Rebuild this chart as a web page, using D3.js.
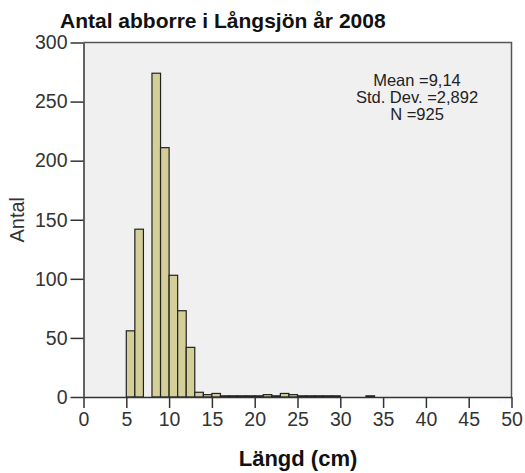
<!DOCTYPE html>
<html>
<head>
<meta charset="utf-8">
<script src="https://cdn.jsdelivr.net/npm/d3@7"></script>
<style>
  body { margin: 0; background: #fff; }
  svg { display: block; font-family: "Liberation Sans", Arial, sans-serif; }
</style>
</head>
<body>
<div id="chart"></div>
<script>
// Histogram data: bin start (cm), bin width 1 cm, count
const binStarts = [5, 6, 7, 8, 9, 10, 11, 12, 13, 14, 15, 16, 17, 18, 19, 20, 21, 22, 23, 24, 25, 26, 27, 28, 29, 30, 31, 32, 33];
const counts    = [56, 142, 0, 274, 211, 103, 73, 42, 4, 2, 3, 1, 1, 1, 1, 1, 2, 1, 3, 2, 1, 1, 1, 1, 1, 0, 0, 0, 1];
const xTicks = [0, 5, 10, 15, 20, 25, 30, 35, 40, 45, 50];
const yTicks = [0, 50, 100, 150, 200, 250, 300];
const statLines = ["Mean =9,14", "Std. Dev. =2,892", "N =925"];

const size = { width: 525, height: 473 };
const plot = { left: 83.5, right: 511.5, top: 42.5, bottom: 397 };
const barFill = "#d4cf98";
const axisColor = "#333";

const data = binStarts.map((b, i) => ({ x0: b, x1: b + 1, count: counts[i] }));

const svg = d3.select("#chart")
  .append("svg")
  .attr("width", size.width)
  .attr("height", size.height);

const xScale = d3.scaleLinear([0, 50], [plot.left, plot.right]);
const yScale = d3.scaleLinear([0, 300], [plot.bottom, plot.top]);

// plot background
svg.append("rect")
  .attr("x", plot.left)
  .attr("y", plot.top)
  .attr("width", plot.right - plot.left)
  .attr("height", plot.bottom - plot.top)
  .attr("fill", "#f0f0f0");

// bars
svg.append("g")
  .selectAll("rect")
  .data(data.filter((d) => d.count > 0))
  .join("rect")
  .attr("x", (d) => xScale(d.x0))
  .attr("y", (d) => yScale(d.count))
  .attr("width", (d) => xScale(d.x1) - xScale(d.x0))
  .attr("height", (d) => yScale(0) - yScale(d.count))
  .attr("fill", barFill)
  .attr("stroke", "#222")
  .attr("stroke-width", 1.2);

// frame top and right
svg.append("path")
  .attr("d", `M${plot.left},${plot.top}H${plot.right}V${plot.bottom}`)
  .attr("fill", "none")
  .attr("stroke", "#555")
  .attr("stroke-width", 1.5);

// Axes
const styleAxis = (g) =>
  g.call((g) => g.select(".domain").attr("stroke", axisColor).attr("stroke-width", 1.5))
    .call((g) => g.selectAll(".tick line").attr("stroke", axisColor).attr("stroke-width", 1.5))
    .call((g) => g.selectAll("text").attr("fill", "#333").style("font-size", "19.5px").style("font-family", "Liberation Sans, Arial, sans-serif"));

const xAxis = (g) =>
  g.attr("transform", `translate(0,${plot.bottom})`)
    .call(d3.axisBottom(xScale).tickValues(xTicks).tickSize(11).tickPadding(4).tickSizeOuter(0))
    .call(styleAxis);

const yAxis = (g) =>
  g.attr("transform", `translate(${plot.left},0)`)
    .call(d3.axisLeft(yScale).tickValues(yTicks).tickSize(13).tickPadding(3).tickSizeOuter(0))
    .call(styleAxis);

svg.append("g").call(xAxis);
svg.append("g").call(yAxis);

// Title
svg.append("text")
  .attr("x", 60)
  .attr("y", 28)
  .attr("font-size", 21)
  .attr("font-weight", "bold")
  .attr("fill", "#111")
  .text("Antal abborre i Långsjön år 2008");

// Axis titles
svg.append("text")
  .attr("x", 298)
  .attr("y", 466)
  .attr("text-anchor", "middle")
  .attr("font-size", 22)
  .attr("font-weight", "bold")
  .attr("fill", "#111")
  .text("Längd (cm)");

svg.append("text")
  .attr("transform", `translate(24,${(plot.top + plot.bottom) / 2}) rotate(-90)`)
  .attr("text-anchor", "middle")
  .attr("font-size", 20)
  .attr("fill", "#333")
  .text("Antal");

// Stats box
svg.append("g")
  .selectAll("text")
  .data(statLines)
  .join("text")
  .attr("x", 417)
  .attr("y", (d, i) => 86 + i * 17)
  .attr("text-anchor", "middle")
  .attr("font-size", 16.5)
  .attr("fill", "#222")
  .text((d) => d);
</script>
</body>
</html>
